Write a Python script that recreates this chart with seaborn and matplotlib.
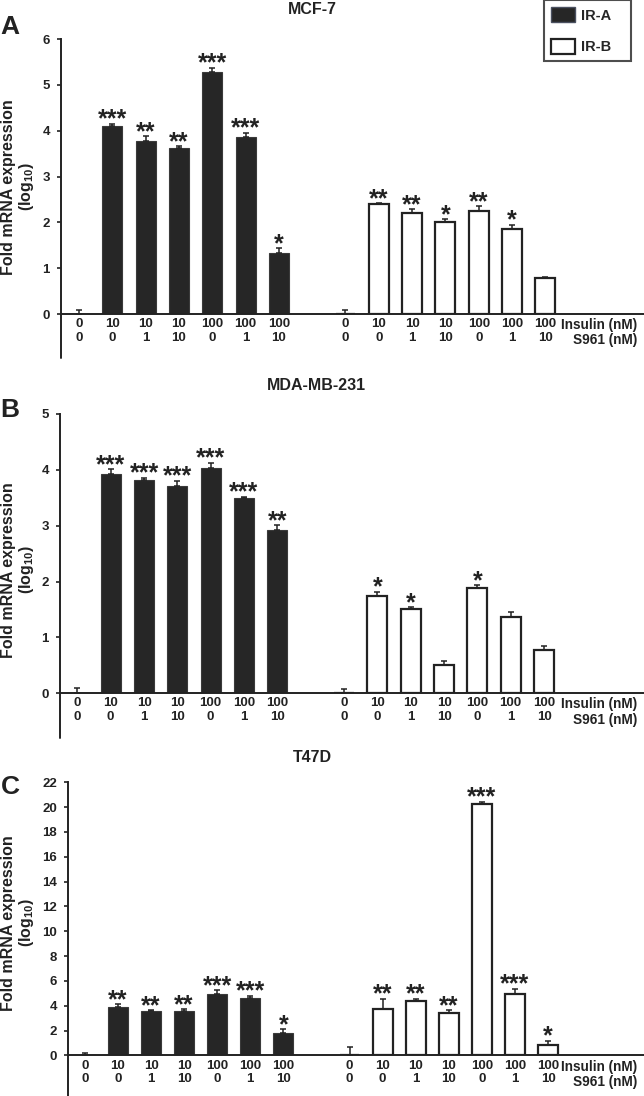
import numpy as np
import pandas as pd
import matplotlib
matplotlib.use("Agg")
import matplotlib.pyplot as plt
from matplotlib.patches import Patch
import seaborn as sns

# Tratamentos (mesmos para IR-A e IR-B)
insulin = ["0", "10", "10", "10", "100", "100", "100"]
s961 = ["0", "0", "1", "10", "0", "1", "10"]

# MCF-7
mcf7_ira = [0.00, 4.10, 3.78, 3.62, 5.29, 3.86, 1.34]
mcf7_ira_err = [0.08, 0.05, 0.10, 0.04, 0.08, 0.09, 0.09]
mcf7_ira_sig = ["", "***", "**", "**", "***", "***", "*"]
mcf7_irb = [0.00, 2.40, 2.21, 2.00, 2.24, 1.85, 0.78]
mcf7_irb_err = [0.09, 0.02, 0.08, 0.07, 0.11, 0.10, 0.03]
mcf7_irb_sig = ["", "**", "**", "*", "**", "*", ""]

# MDA-MB-231
mda_ira = [0.00, 3.92, 3.82, 3.71, 4.04, 3.50, 2.92]
mda_ira_err = [0.09, 0.09, 0.04, 0.09, 0.09, 0.02, 0.09]
mda_ira_sig = ["", "***", "***", "***", "***", "***", "**"]
mda_irb = [0.00, 1.75, 1.51, 0.50, 1.88, 1.36, 0.78]
mda_irb_err = [0.08, 0.07, 0.03, 0.08, 0.05, 0.09, 0.07]
mda_irb_sig = ["", "*", "*", "", "*", "", ""]

# T47D
t47d_ira = [0.00, 3.87, 3.59, 3.54, 4.91, 4.64, 1.77]
t47d_ira_err = [0.20, 0.26, 0.04, 0.16, 0.35, 0.14, 0.32]
t47d_ira_sig = ["", "**", "**", "**", "***", "***", "*"]
t47d_irb = [0.00, 3.73, 4.40, 3.38, 20.22, 4.91, 0.83]
t47d_irb_err = [0.69, 0.81, 0.14, 0.27, 0.22, 0.46, 0.35]
t47d_irb_sig = ["", "**", "**", "**", "***", "***", "*"]

panels = [
    ("MCF-7", "A", mcf7_ira, mcf7_ira_err, mcf7_ira_sig, mcf7_irb, mcf7_irb_err, mcf7_irb_sig, 6, 1),
    ("MDA-MB-231", "B", mda_ira, mda_ira_err, mda_ira_sig, mda_irb, mda_irb_err, mda_irb_sig, 5, 1),
    ("T47D", "C", t47d_ira, t47d_ira_err, t47d_ira_sig, t47d_irb, t47d_irb_err, t47d_irb_sig, 22, 2),
]

sns.set_style("ticks")
plt.rcParams["font.family"] = ["Liberation Sans", "DejaVu Sans"]
plt.rcParams["font.weight"] = "bold"
plt.rcParams["mathtext.fontset"] = "custom"
plt.rcParams["mathtext.rm"] = "Liberation Sans:bold"
plt.rcParams["mathtext.it"] = "Liberation Sans:bold"
plt.rcParams["mathtext.bf"] = "Liberation Sans:bold"

DARK = "#262626"
EDGE = "#222222"
FS = 9.5

fig = plt.figure(figsize=(6.44, 10.96), dpi=100)

# posições dos eixos (fração da figura)
boxes = [
    [0.0947, 0.7135, 0.9053, 0.2509],
    [0.0932, 0.3674, 0.9068, 0.2549],
    [0.1056, 0.0371, 0.8944, 0.2491],
]
xlims = [(-0.54, 16.96), (-0.52, 17.0), (-0.51, 16.9)]
titles_xy = [(0.4845, 0.9909), (0.4907, 0.6487), (0.4845, 0.3093)]
letters_y = [0.975, 0.626, 0.282]
ylabel_y = [0.8294, 0.4799, 0.1578]

for i, (name, letter, ira, ira_e, ira_s, irb, irb_e, irb_s, ymax, ystep) in enumerate(panels):
    ax = fig.add_axes(boxes[i])
    n = len(insulin)
    pos_a = np.arange(n)
    pos_b = np.arange(n) + n + 1
    df_a = pd.DataFrame({"pos": pos_a, "value": ira})
    df_b = pd.DataFrame({"pos": pos_b, "value": irb})

    sns.barplot(data=df_a, x="pos", y="value", native_scale=True, width=0.6,
                color=DARK, edgecolor="#3a3a3a", linewidth=0.8, saturation=1,
                errorbar=None, ax=ax)
    sns.barplot(data=df_b, x="pos", y="value", native_scale=True, width=0.6,
                color="white", edgecolor=EDGE, linewidth=1.6, saturation=1,
                errorbar=None, ax=ax)

    for pos, vals, errs, sig in [(pos_a, ira, ira_e, ira_s), (pos_b, irb, irb_e, irb_s)]:
        vals = np.array(vals)
        errs = np.array(errs)
        ax.errorbar(pos, vals, yerr=[np.zeros_like(errs), errs], fmt="none",
                    ecolor=EDGE, elinewidth=1.1, capsize=2, capthick=1.1)
        for x, v, e, s in zip(pos, vals, errs, sig):
            if s:
                ax.annotate(s, xy=(x, v + e), xytext=(0, -2), textcoords="offset points",
                            ha="center", va="baseline", fontsize=18, fontweight="bold",
                            color="#222222")

    ax.set_xlim(*xlims[i])
    ax.set_ylim(0, ymax)
    ax.set_yticks(np.arange(0, ymax + 0.01, ystep))
    ax.set_xticks(np.concatenate([pos_a, pos_b]))
    ax.set_xticklabels([f"{a}\n{b}" for a, b in zip(insulin, s961)] * 2)
    for lbl in ax.get_xticklabels():
        lbl.set_linespacing(1.15)
    ax.tick_params(axis="x", length=0, pad=3, labelsize=FS, colors="#222222")
    ax.tick_params(axis="y", length=3, width=1.2, pad=5, labelsize=FS, colors="#222222")
    ax.set_xlabel("")
    ax.set_ylabel("")
    sns.despine(ax=ax)
    for sp in ["left", "bottom"]:
        ax.spines[sp].set_linewidth(1.4)
        ax.spines[sp].set_color("#222222")

    # eixo vertical continua abaixo das legendas
    ax.plot([0, 0], [0, -0.16], transform=ax.transAxes, color="#222222", lw=1.4, clip_on=False)

    ax.annotate("Insulin (nM)\nS961 (nM)", xy=(0.988, 0), xycoords="axes fraction",
                xytext=(0, -3), textcoords="offset points", ha="right", va="top",
                fontsize=9.8, fontweight="bold", linespacing=1.12, color="#222222")

    fig.text(titles_xy[i][0], titles_xy[i][1], name, ha="center", va="center",
             fontsize=11.5, fontweight="bold", color="#222222")
    fig.text(0.0155, letters_y[i], letter, ha="center", va="center",
             fontsize=19, fontweight="bold", color="#222222")
    fig.text(0.029, ylabel_y[i], "Fold mRNA expression\n(log$_{10}$)", rotation=90,
             ha="center", va="center", fontsize=11.5, fontweight="bold",
             linespacing=1.05, color="#222222")

handles = [Patch(facecolor=DARK, edgecolor="#4a5060", linewidth=1.0),
           Patch(facecolor="white", edgecolor=EDGE, linewidth=1.6)]
leg = fig.legend(handles, ["IR-A", "IR-B"], loc="upper left", mode="expand",
                 bbox_to_anchor=(544 / 644, 0, 87 / 644, 1.0), frameon=True, fancybox=False,
                 edgecolor="#222222", fontsize=10.5, handlelength=1.65, handleheight=1.2,
                 labelspacing=1.1, borderpad=0.5, handletextpad=0.41, borderaxespad=0)
leg.get_frame().set_linewidth(1.5)

fig.savefig("out.png", dpi=100)
